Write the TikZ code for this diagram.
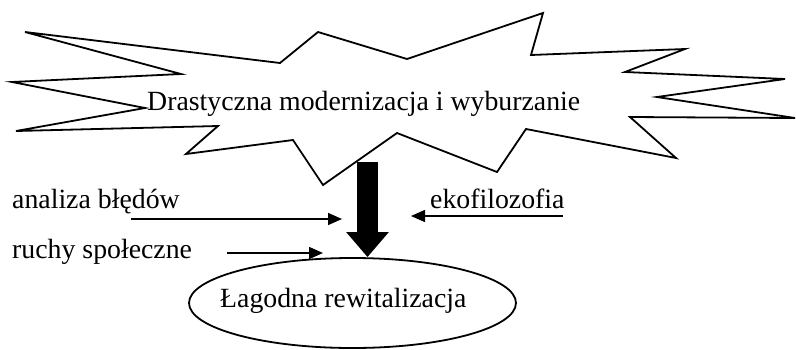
\documentclass[tikz,border=0pt]{standalone}
\usepackage{fontspec}
\setmainfont{Liberation Serif}
\usetikzlibrary{arrows.meta,shapes.geometric}
\tikzset{
  txt/.style={font=\fontsize{27.8}{32}\selectfont},
  lbl/.style={txt, inner sep=0pt, anchor=base west},
  burst/.style={draw=black, line width=1.8pt, line join=miter},
  thin arrow/.style={line width=1.5pt, -{Triangle[length=14pt,width=12pt]}},
  big arrow/.style={line width=21pt, -{Triangle[length=25pt,width=41pt]}},
  oval/.style={draw, ellipse, line width=1.8pt, minimum width=327pt, minimum height=90pt, inner sep=0pt}
}
\begin{document}
\begin{tikzpicture}[x=1pt,y=-1pt]
\useasboundingbox (0,0) rectangle (796,349);
% explosion outline
\draw[burst] (25,32) -- (280,63) -- (318,32) -- (407,59) -- (543,13) -- (531,55)
  -- (685,49) -- (625,72) -- (785,79) -- (657,97) -- (795,118) -- (630,117)
  -- (676,158) -- (526,129) -- (497,172) -- (397,133) -- (323,185) -- (293,140)
  -- (186,154) -- (218,126) -- (16,131) -- (145,108) -- (12,82) -- (181,74) -- cycle;
\node[lbl] (drast) at (147,110) {Drastyczna modernizacja i wyburzanie};
% result
\node[oval] (lagodna) at (352.5,303) {};
\node[lbl] (lagtxt) at (220,307) {Łagodna rewitalizacja};
% influences
\node[lbl] (analiza) at (12,208) {analiza błędów};
\node[lbl] (ruchy) at (12,258) {ruchy społeczne};
\node[lbl] (eko) at (430,208) {ekofilozofia};
\coordinate (bigtop) at (367.5,162);
\coordinate (a1) at (131,219);
\coordinate (a1e) at (342,219);
\coordinate (a2) at (227,253);
\coordinate (a2e) at (323,253);
\coordinate (a3) at (563,216);
\coordinate (a3e) at (411,216);
\draw[big arrow] (bigtop) -- (bigtop |- lagodna.north);
\draw[thin arrow] (a1) -- (a1e);
\draw[thin arrow] (a2) -- (a2e);
\draw[thin arrow] (a3) -- (a3e);
\end{tikzpicture}
\end{document}
